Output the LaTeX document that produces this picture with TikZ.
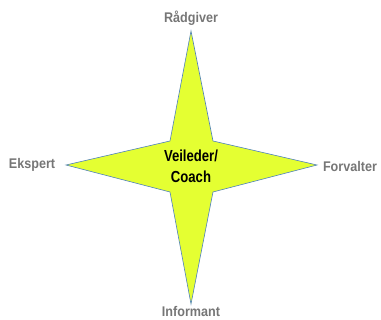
\documentclass[tikz,border=0pt]{standalone}
\usepackage{fontspec}
\setmainfont{Liberation Sans}
\newfontfamily\rolefont[FakeStretch=0.9]{Liberation Sans}
\newfontfamily\centrefont[FakeStretch=0.82]{Liberation Sans}
\definecolor{starfill}{RGB}{228,255,50}
\definecolor{starline}{RGB}{79,129,189}
\definecolor{labelgray}{RGB}{118,118,118}
\tikzset{
  role/.style={font=\rolefont\fontsize{14}{16}\selectfont\bfseries, text=labelgray, inner sep=0pt},
  centre/.style={font=\centrefont\fontsize{16}{21}\selectfont\bfseries, text=black, align=center, inner sep=0pt},
  star/.style={fill=starfill, draw=starline, line width=0.6pt, line join=miter}
}
\begin{document}
\begin{tikzpicture}[x=1pt,y=-1pt]
\useasboundingbox (0,0) rectangle (381,320);
\coordinate (top) at (191,31);
\coordinate (bot) at (191,304);
\coordinate (lft) at (66,165);
\coordinate (rgt) at (317,165);
\coordinate (ul) at (170,141);
\coordinate (ur) at (213,141);
\coordinate (lr) at (213,192);
\coordinate (ll) at (170,192);
\draw[star] (top) -- (ur) -- (rgt) -- (lr) -- (bot) -- (ll) -- (lft) -- (ul) -- cycle;
\node[centre] (mid) at (191,166) {Veileder/\\Coach};
\node[role] (n) at (191,18) {Rådgiver};
\node[role] (w) at (32,165) {Ekspert};
\node[role] (e) at (350,166) {Forvalter};
\node[role] (s) at (191,311.5) {Informant};
\end{tikzpicture}
\end{document}
